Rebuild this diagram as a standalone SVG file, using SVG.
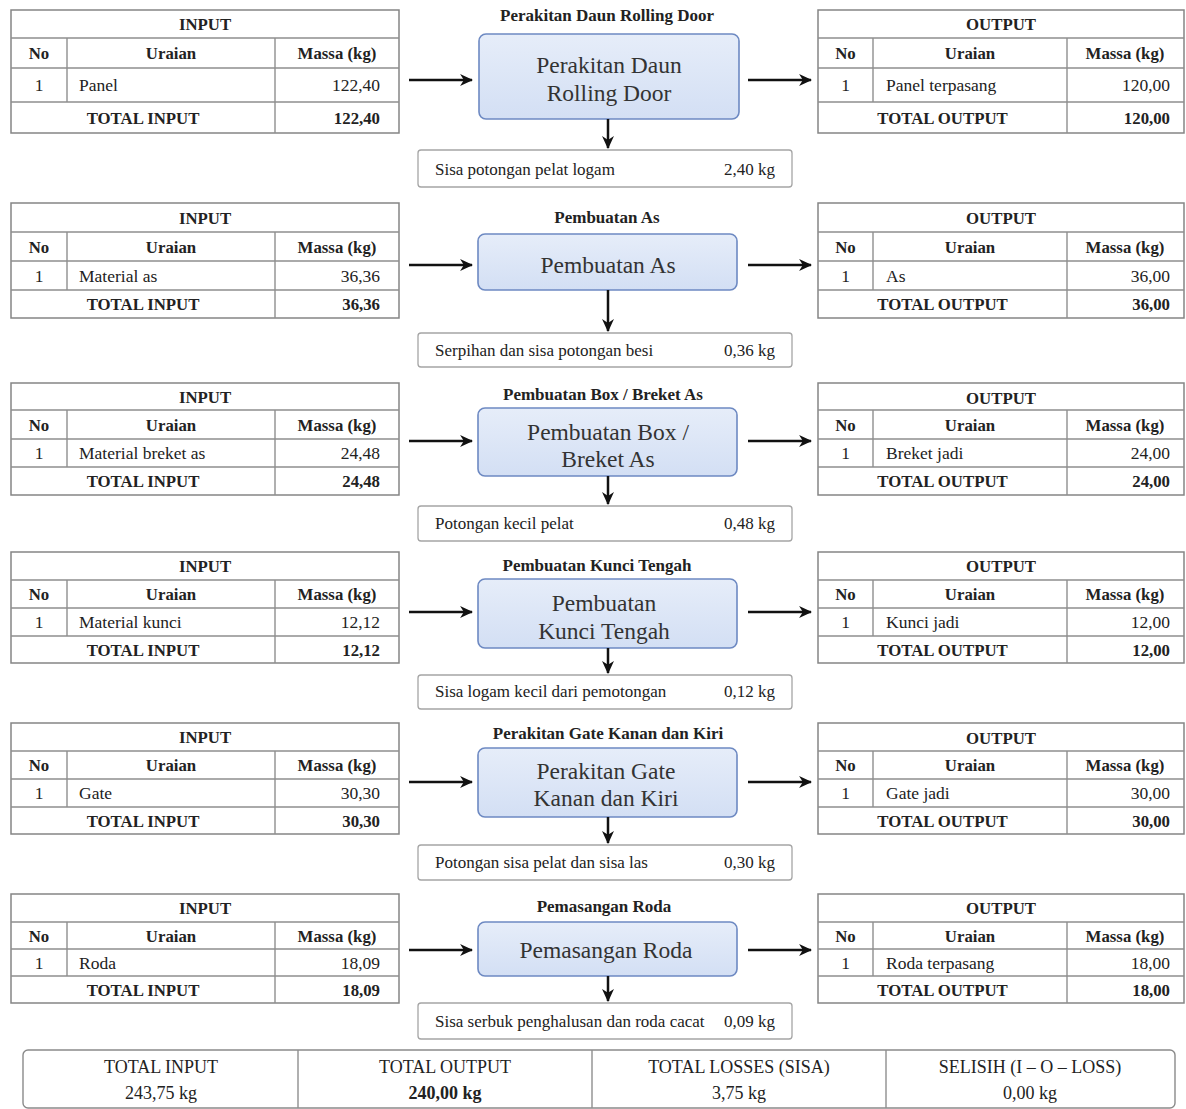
<svg xmlns="http://www.w3.org/2000/svg" width="1186" height="1109" viewBox="0 0 1186 1109">
<defs>
<linearGradient id="pg" x1="0" y1="0" x2="0" y2="1">
<stop offset="0" stop-color="#e6edf9"/>
<stop offset="1" stop-color="#d3dff4"/>
</linearGradient>
<marker id="ah" viewBox="0 0 12 12" refX="11" refY="6" markerWidth="13" markerHeight="13" markerUnits="userSpaceOnUse" orient="auto">
<path d="M0,0.5 L12,6 L0,11.5 L3.5,6 z" fill="#111"/>
</marker>
</defs>
<style>
text{font-family:"Liberation Serif","Times New Roman",serif;fill:#222}
.tb{fill:#fff;stroke:#858585;stroke-width:1.5}
.ln{stroke:#8f8f8f;stroke-width:1.4;fill:none}
.h{font-size:16.8px;font-weight:bold}
.d{font-size:17.5px}
.m{text-anchor:middle}
.e{text-anchor:end}
.ttl{font-size:17px;font-weight:bold;text-anchor:middle}
.proc{fill:url(#pg);stroke:#6d89c2;stroke-width:1.6}
.pt{font-size:23.5px;fill:#333;text-anchor:middle}
.loss{fill:#fff;stroke:#a5a5a5;stroke-width:1.3}
.lt{font-size:17px}
.arr{stroke:#111;stroke-width:2.5;fill:none;marker-end:url(#ah)}
.sum{fill:#fff;stroke:#8a8a8a;stroke-width:1.4}
.st{font-size:18px;text-anchor:middle}
</style>

<!-- Section 1 -->
<g id="s1-input">
<rect class="tb" x="11" y="10" width="388" height="123"/>
<path class="ln" d="M11,38H399M11,68H399M11,102H399M67,38V102M275,38V133"/>
<text class="h m" x="205" y="30">INPUT</text>
<text class="h m" x="39" y="59">No</text><text class="h m" x="171" y="59">Uraian</text><text class="h m" x="337" y="59">Massa (kg)</text>
<text class="d m" x="39" y="91">1</text><text class="d" x="79" y="91">Panel</text><text class="d e" x="380" y="91">122,40</text>
<text class="h m" x="143" y="123.5">TOTAL INPUT</text><text class="h e" x="380" y="123.5">122,40</text>
</g>
<g id="s1-process">
<text class="ttl" x="607" y="21">Perakitan Daun Rolling Door</text>
<rect class="proc" x="479" y="34" width="260" height="85" rx="7"/>
<text class="pt" x="609" y="73">Perakitan Daun</text>
<text class="pt" x="609" y="101">Rolling Door</text>
</g>
<g id="s1-output">
<rect class="tb" x="818" y="10" width="366" height="123"/>
<path class="ln" d="M818,38H1184M818,68H1184M818,102H1184M873,38V102M1067,38V133"/>
<text class="h m" x="1001" y="30">OUTPUT</text>
<text class="h m" x="845.5" y="59">No</text><text class="h m" x="970" y="59">Uraian</text><text class="h m" x="1125" y="59">Massa (kg)</text>
<text class="d m" x="845.5" y="91">1</text><text class="d" x="886" y="91">Panel terpasang</text><text class="d e" x="1170" y="91">120,00</text>
<text class="h m" x="942.5" y="123.5">TOTAL OUTPUT</text><text class="h e" x="1170" y="123.5">120,00</text>
</g>
<g id="s1-loss">
<rect class="loss" x="418" y="150" width="374" height="37" rx="3"/>
<text class="lt" x="435" y="175">Sisa potongan pelat logam</text>
<text class="lt e" x="775" y="175">2,40 kg</text>
</g>

<!-- Section 2 -->
<g id="s2-input">
<rect class="tb" x="11" y="203" width="388" height="115"/>
<path class="ln" d="M11,232H399M11,261H399M11,290H399M67,232V290M275,232V318"/>
<text class="h m" x="205" y="223.5">INPUT</text>
<text class="h m" x="39" y="252.5">No</text><text class="h m" x="171" y="252.5">Uraian</text><text class="h m" x="337" y="252.5">Massa (kg)</text>
<text class="d m" x="39" y="281.5">1</text><text class="d" x="79" y="281.5">Material as</text><text class="d e" x="380" y="281.5">36,36</text>
<text class="h m" x="143" y="310">TOTAL INPUT</text><text class="h e" x="380" y="310">36,36</text>
</g>
<g id="s2-process">
<text class="ttl" x="607" y="223">Pembuatan As</text>
<rect class="proc" x="478" y="234" width="259" height="56" rx="7"/>
<text class="pt" x="608" y="273">Pembuatan As</text>
</g>
<g id="s2-output">
<rect class="tb" x="818" y="203" width="366" height="115"/>
<path class="ln" d="M818,232H1184M818,261H1184M818,290H1184M873,232V290M1067,232V318"/>
<text class="h m" x="1001" y="223.5">OUTPUT</text>
<text class="h m" x="845.5" y="252.5">No</text><text class="h m" x="970" y="252.5">Uraian</text><text class="h m" x="1125" y="252.5">Massa (kg)</text>
<text class="d m" x="845.5" y="281.5">1</text><text class="d" x="886" y="281.5">As</text><text class="d e" x="1170" y="281.5">36,00</text>
<text class="h m" x="942.5" y="310">TOTAL OUTPUT</text><text class="h e" x="1170" y="310">36,00</text>
</g>
<g id="s2-loss">
<rect class="loss" x="418" y="333" width="374" height="34" rx="3"/>
<text class="lt" x="435" y="356">Serpihan dan sisa potongan besi</text>
<text class="lt e" x="775" y="356">0,36 kg</text>
</g>

<!-- Section 3 -->
<g id="s3-input">
<rect class="tb" x="11" y="383" width="388" height="112"/>
<path class="ln" d="M11,410H399M11,439H399M11,467H399M67,410V467M275,410V495"/>
<text class="h m" x="205" y="402.5">INPUT</text>
<text class="h m" x="39" y="430.5">No</text><text class="h m" x="171" y="430.5">Uraian</text><text class="h m" x="337" y="430.5">Massa (kg)</text>
<text class="d m" x="39" y="459">1</text><text class="d" x="79" y="459">Material breket as</text><text class="d e" x="380" y="459">24,48</text>
<text class="h m" x="143" y="487">TOTAL INPUT</text><text class="h e" x="380" y="487">24,48</text>
</g>
<g id="s3-process">
<text class="ttl" x="603" y="400">Pembuatan Box / Breket As</text>
<rect class="proc" x="478" y="408" width="259" height="68" rx="7"/>
<text class="pt" x="608" y="440">Pembuatan Box /</text>
<text class="pt" x="608" y="467">Breket As</text>
</g>
<g id="s3-output">
<rect class="tb" x="818" y="383" width="366" height="112"/>
<path class="ln" d="M818,410H1184M818,439H1184M818,467H1184M873,410V467M1067,410V495"/>
<text class="h m" x="1001" y="403.5">OUTPUT</text>
<text class="h m" x="845.5" y="430.5">No</text><text class="h m" x="970" y="430.5">Uraian</text><text class="h m" x="1125" y="430.5">Massa (kg)</text>
<text class="d m" x="845.5" y="459">1</text><text class="d" x="886" y="459">Breket jadi</text><text class="d e" x="1170" y="459">24,00</text>
<text class="h m" x="942.5" y="487">TOTAL OUTPUT</text><text class="h e" x="1170" y="487">24,00</text>
</g>
<g id="s3-loss">
<rect class="loss" x="418" y="506" width="374" height="35" rx="3"/>
<text class="lt" x="435" y="529">Potongan kecil pelat</text>
<text class="lt e" x="775" y="529">0,48 kg</text>
</g>

<!-- Section 4 -->
<g id="s4-input">
<rect class="tb" x="11" y="552" width="388" height="111"/>
<path class="ln" d="M11,580H399M11,608H399M11,636H399M67,580V636M275,580V663"/>
<text class="h m" x="205" y="572">INPUT</text>
<text class="h m" x="39" y="600">No</text><text class="h m" x="171" y="600">Uraian</text><text class="h m" x="337" y="600">Massa (kg)</text>
<text class="d m" x="39" y="628">1</text><text class="d" x="79" y="628">Material kunci</text><text class="d e" x="380" y="628">12,12</text>
<text class="h m" x="143" y="655.5">TOTAL INPUT</text><text class="h e" x="380" y="655.5">12,12</text>
</g>
<g id="s4-process">
<text class="ttl" x="597" y="571">Pembuatan Kunci Tengah</text>
<rect class="proc" x="478" y="579" width="259" height="69" rx="7"/>
<text class="pt" x="604" y="611">Pembuatan</text>
<text class="pt" x="604" y="639">Kunci Tengah</text>
</g>
<g id="s4-output">
<rect class="tb" x="818" y="552" width="366" height="111"/>
<path class="ln" d="M818,580H1184M818,608H1184M818,636H1184M873,580V636M1067,580V663"/>
<text class="h m" x="1001" y="572">OUTPUT</text>
<text class="h m" x="845.5" y="600">No</text><text class="h m" x="970" y="600">Uraian</text><text class="h m" x="1125" y="600">Massa (kg)</text>
<text class="d m" x="845.5" y="628">1</text><text class="d" x="886" y="628">Kunci jadi</text><text class="d e" x="1170" y="628">12,00</text>
<text class="h m" x="942.5" y="655.5">TOTAL OUTPUT</text><text class="h e" x="1170" y="655.5">12,00</text>
</g>
<g id="s4-loss">
<rect class="loss" x="418" y="675" width="374" height="34" rx="3"/>
<text class="lt" x="435" y="697">Sisa logam kecil dari pemotongan</text>
<text class="lt e" x="775" y="697">0,12 kg</text>
</g>

<!-- Section 5 -->
<g id="s5-input">
<rect class="tb" x="11" y="723" width="388" height="111"/>
<path class="ln" d="M11,751H399M11,779H399M11,807H399M67,751V807M275,751V834"/>
<text class="h m" x="205" y="743">INPUT</text>
<text class="h m" x="39" y="771">No</text><text class="h m" x="171" y="771">Uraian</text><text class="h m" x="337" y="771">Massa (kg)</text>
<text class="d m" x="39" y="799">1</text><text class="d" x="79" y="799">Gate</text><text class="d e" x="380" y="799">30,30</text>
<text class="h m" x="143" y="826.5">TOTAL INPUT</text><text class="h e" x="380" y="826.5">30,30</text>
</g>
<g id="s5-process">
<text class="ttl" x="608" y="739">Perakitan Gate Kanan dan Kiri</text>
<rect class="proc" x="478" y="748" width="259" height="69" rx="7"/>
<text class="pt" x="606" y="779">Perakitan Gate</text>
<text class="pt" x="606" y="806">Kanan dan Kiri</text>
</g>
<g id="s5-output">
<rect class="tb" x="818" y="723" width="366" height="111"/>
<path class="ln" d="M818,751H1184M818,779H1184M818,807H1184M873,751V807M1067,751V834"/>
<text class="h m" x="1001" y="744">OUTPUT</text>
<text class="h m" x="845.5" y="771">No</text><text class="h m" x="970" y="771">Uraian</text><text class="h m" x="1125" y="771">Massa (kg)</text>
<text class="d m" x="845.5" y="799">1</text><text class="d" x="886" y="799">Gate jadi</text><text class="d e" x="1170" y="799">30,00</text>
<text class="h m" x="942.5" y="826.5">TOTAL OUTPUT</text><text class="h e" x="1170" y="826.5">30,00</text>
</g>
<g id="s5-loss">
<rect class="loss" x="418" y="845" width="374" height="35" rx="3"/>
<text class="lt" x="435" y="868">Potongan sisa pelat dan sisa las</text>
<text class="lt e" x="775" y="868">0,30 kg</text>
</g>

<!-- Section 6 -->
<g id="s6-input">
<rect class="tb" x="11" y="894" width="388" height="109"/>
<path class="ln" d="M11,922H399M11,949H399M11,976H399M67,922V976M275,922V1003"/>
<text class="h m" x="205" y="914">INPUT</text>
<text class="h m" x="39" y="941.5">No</text><text class="h m" x="171" y="941.5">Uraian</text><text class="h m" x="337" y="941.5">Massa (kg)</text>
<text class="d m" x="39" y="968.5">1</text><text class="d" x="79" y="968.5">Roda</text><text class="d e" x="380" y="968.5">18,09</text>
<text class="h m" x="143" y="995.5">TOTAL INPUT</text><text class="h e" x="380" y="995.5">18,09</text>
</g>
<g id="s6-process">
<text class="ttl" x="604" y="912">Pemasangan Roda</text>
<rect class="proc" x="478" y="922" width="259" height="54" rx="7"/>
<text class="pt" x="606" y="958">Pemasangan Roda</text>
</g>
<g id="s6-output">
<rect class="tb" x="818" y="894" width="366" height="109"/>
<path class="ln" d="M818,922H1184M818,949H1184M818,976H1184M873,922V976M1067,922V1003"/>
<text class="h m" x="1001" y="914">OUTPUT</text>
<text class="h m" x="845.5" y="941.5">No</text><text class="h m" x="970" y="941.5">Uraian</text><text class="h m" x="1125" y="941.5">Massa (kg)</text>
<text class="d m" x="845.5" y="968.5">1</text><text class="d" x="886" y="968.5">Roda terpasang</text><text class="d e" x="1170" y="968.5">18,00</text>
<text class="h m" x="942.5" y="995.5">TOTAL OUTPUT</text><text class="h e" x="1170" y="995.5">18,00</text>
</g>
<g id="s6-loss">
<rect class="loss" x="418" y="1003" width="374" height="36" rx="3"/>
<text class="lt" x="435" y="1027">Sisa serbuk penghalusan dan roda cacat</text>
<text class="lt e" x="775" y="1027">0,09 kg</text>
</g>

<!-- Summary -->
<g id="summary">
<rect class="sum" x="23" y="1050" width="1152" height="58" rx="5"/>
<path class="ln" d="M298,1050V1108M592,1050V1108M886,1050V1108"/>
<text class="st" x="161" y="1073">TOTAL INPUT</text><text class="st" x="161" y="1099">243,75 kg</text>
<text class="st" x="445" y="1073">TOTAL OUTPUT</text><text class="st" x="445" y="1099" font-weight="bold">240,00 kg</text>
<text class="st" x="739" y="1073">TOTAL LOSSES (SISA)</text><text class="st" x="739" y="1099">3,75 kg</text>
<text class="st" x="1030" y="1073">SELISIH (I – O – LOSS)</text><text class="st" x="1030" y="1099">0,00 kg</text>
</g>

<!-- Connectors -->
<g id="connectors">
<path class="arr" d="M409,80H472"/><path class="arr" d="M748,80H811"/><path class="arr" d="M608,119V148"/>
<path class="arr" d="M409,265H472"/><path class="arr" d="M748,265H811"/><path class="arr" d="M608,290V331"/>
<path class="arr" d="M409,441H472"/><path class="arr" d="M748,441H811"/><path class="arr" d="M608,476V504"/>
<path class="arr" d="M409,612H472"/><path class="arr" d="M748,612H811"/><path class="arr" d="M608,648V673"/>
<path class="arr" d="M409,782H472"/><path class="arr" d="M748,782H811"/><path class="arr" d="M608,817V843"/>
<path class="arr" d="M409,950H472"/><path class="arr" d="M748,950H811"/><path class="arr" d="M608,976V1001"/>
</g>
</svg>
